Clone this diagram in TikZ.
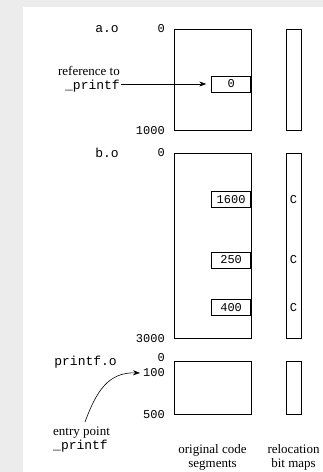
\documentclass[tikz,border=0pt]{standalone}
\usepackage{fontspec}
\setmainfont{Liberation Serif}
\newfontfamily\codefont{Liberation Mono}
\usetikzlibrary{positioning,arrows.meta}

\begin{document}
\begin{tikzpicture}[x=1pt, y=-1pt,
  seg/.style={draw, line width=0.7pt, minimum width=77pt, anchor=north west, inner sep=0pt},
  bmap/.style={draw, line width=0.7pt, minimum width=15pt, anchor=north west, inner sep=0pt},
  slot/.style={draw, fill=white, line width=0.7pt, minimum width=39pt, minimum height=16pt, anchor=east, inner sep=0pt, font=\codefont\fontsize{12}{12}\selectfont},
  num/.style={anchor=east, inner sep=0pt, font=\codefont\fontsize{12}{12}\selectfont},
  modname/.style={anchor=east, inner sep=0pt, font=\codefont\fontsize{13}{13}\selectfont},
  lbl/.style={align=center, inner sep=1pt, font=\fontsize{13}{14}\selectfont},
  arr/.style={-{Stealth[length=7pt, width=5pt]}, line width=0.6pt}
]
\useasboundingbox (0,0) rectangle (323,472);
\fill[gray!15] (0,0) rectangle (323,472);
\fill[white] (23,7) rectangle (323,472);
% code segments
\node[seg, minimum height=101pt] (aseg) at (174,29) {};
\node[seg, minimum height=185pt] (bseg) at (174,153) {};
\node[seg, minimum height=53pt] (pseg) at (174,361) {};
% relocation bit maps
\node[bmap, minimum height=101pt] (abm) at (286,29) {};
\node[bmap, minimum height=185pt] (bbm) at (286,153) {};
\node[bmap, minimum height=53pt] (pbm) at (286,361) {};
% module names
\node[modname] (ao) at (119,29) {a.o};
\node[modname] (bo) at (119,153) {b.o};
\node[modname] (po) at (117,362) {printf.o};
% offsets
\node[num, left=9pt of aseg.north west] (a0) {0};
\node[num, left=9pt of aseg.south west] (a1000) {1000};
\node[num, left=9pt of bseg.north west] (b0) {0};
\node[num, left=9pt of bseg.south west] (b3000) {3000};
\node[num] (p0) at (165,358) {0};
\node[num] (p100) at (165,373) {100};
\node[num, left=9pt of pseg.south west] (p500) {500};
% relocated words and their bits
\node[slot] (r0) at (251,84) {0};
\foreach \v/\y in {1600/199.5, 250/260, 400/307.5} {
  \node[slot] (r\v) at (251,\y) {\v};
  \node[font=\codefont\fontsize{12}{12}\selectfont] (c\v) at (293.5,\y) {C};
}
% reference and entry point
\node[lbl, align=right, anchor=east] (refl) at (121,79.5) {reference to\\{\codefont \_printf}};
\draw[arr] (refl.east |- r0.west) -- ([xshift=-5pt]r0.west);
\node[lbl, align=left, anchor=north west] (ep) at (52,426) {entry point\\{\codefont \_printf}};
\coordinate (ept) at (85,422);
\draw[arr] (ept) .. controls (96,392) and (108,372) .. ([xshift=-3pt]p100.west);
% captions
\node[lbl] (segcap) at (212.5,457) {original code\\segments};
\node[lbl] (bmcap) at (293.5,457) {relocation\\bit maps};
\end{tikzpicture}
\end{document}
